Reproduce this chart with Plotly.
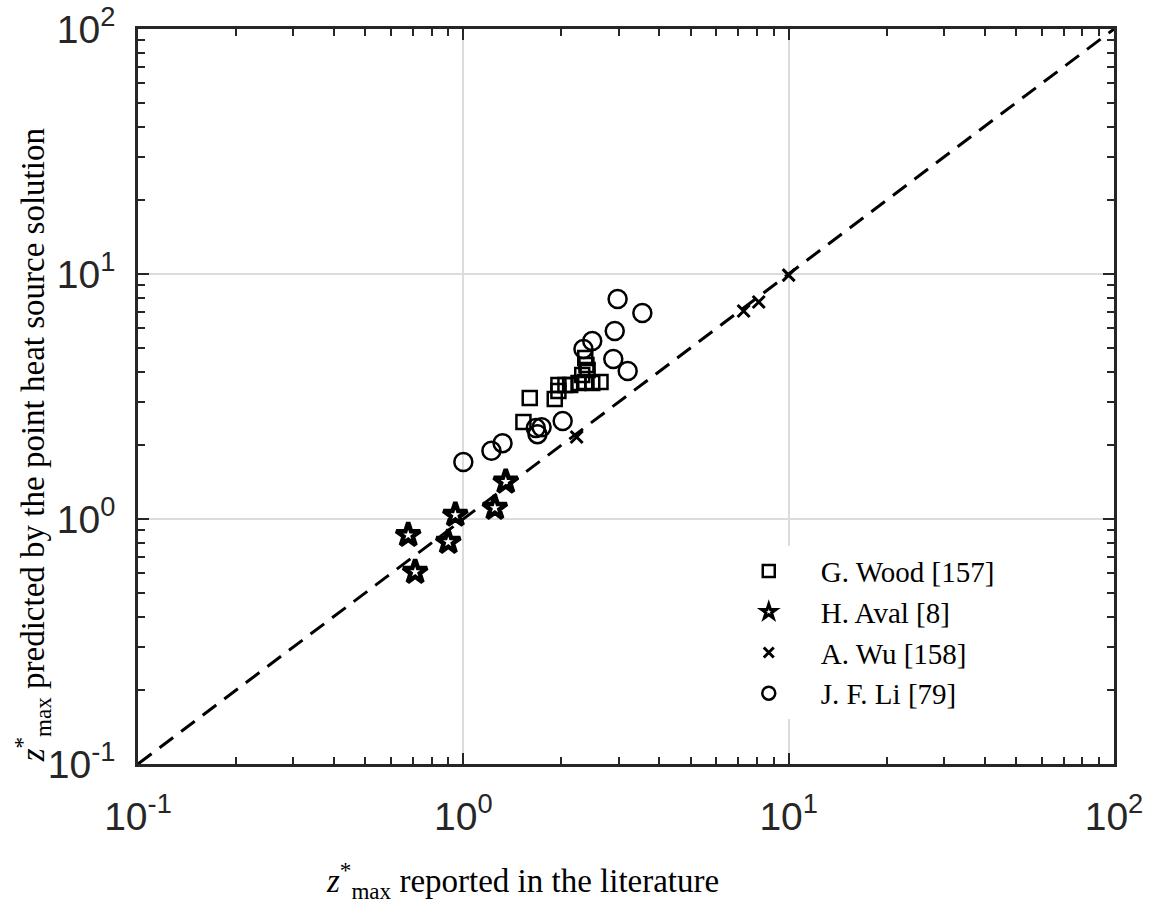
import plotly.graph_objects as go

# ---- data ----
wood_x = [1.60, 1.91, 1.53, 1.96, 1.96, 2.06, 2.13, 2.26, 2.37, 2.49, 2.64, 2.32, 2.41, 2.39, 2.37]
wood_y = [3.12, 3.09, 2.49, 3.33, 3.52, 3.52, 3.52, 3.59, 3.62, 3.59, 3.62, 3.87, 4.06, 4.25, 4.54]

aval_x = [0.677, 0.711, 0.899, 0.945, 1.25, 1.35]
aval_y = [0.86, 0.608, 0.806, 1.04, 1.11, 1.42]

wu_x = [2.23, 7.27, 8.09, 10.0]
wu_y = [2.16, 7.06, 7.69, 9.9]

li_x = [2.98, 3.55, 2.92, 2.49, 2.34, 2.89, 3.20, 2.02, 1.67, 1.74, 1.69, 1.32, 1.22, 1.00]
li_y = [7.91, 6.93, 5.85, 5.33, 4.94, 4.50, 4.02, 2.51, 2.35, 2.37, 2.22, 2.04, 1.90, 1.71]

line_x = [0.1, 100]
line_y = [0.1, 100]

tick_vals = [0.1, 1, 10, 100]
tick_text = ["10<sup>-1</sup>", "10<sup>0</sup>", "10<sup>1</sup>", "10<sup>2</sup>"]

names = ["G. Wood [157]", "H. Aval [8]", "A. Wu [158]", "J. F. Li [79]"]
x_title = "<i>z</i><sup>*</sup><sub>max</sub> reported in the literature"
y_title = "<i>z</i><sup>*</sup><sub>max</sub> predicted by the point heat source solution"

INK = "#262626"
SERIF = "Liberation Serif, DejaVu Serif, serif"
SANS = "Liberation Sans, Arial, Helvetica, sans-serif"

series = [
    (wood_x, wood_y, names[0], "square-open", 14, 2.5, 12, 2.5),
    (aval_x, aval_y, names[1], "star-open", 18, 4.5, 11, 3),
    (wu_x, wu_y, names[2], "x-thin-open", 12, 3, 10, 3),
    (li_x, li_y, names[3], "circle-open", 18, 2.5, 13, 2.5),
]

fig = go.Figure()

fig.add_trace(go.Scatter(x=line_x, y=line_y, mode="lines",
                         line=dict(color="black", width=3, dash="17px,10px"),
                         showlegend=False, hoverinfo="skip"))

for xs, ys, nm, sym, sz, lw, lsz, llw in series:
    # plotted markers
    fig.add_trace(go.Scatter(x=xs, y=ys, mode="markers", name=nm, legendgroup=nm,
                             showlegend=False,
                             marker=dict(symbol=sym, size=sz, color="black",
                                         line=dict(width=lw, color="black"))))
    # legend entry (smaller key symbol, as in the reference)
    fig.add_trace(go.Scatter(x=[None], y=[None], mode="markers", name=nm, legendgroup=nm,
                             showlegend=True,
                             marker=dict(symbol=sym, size=lsz, color="black",
                                         line=dict(width=llw, color="black"))))

axis_common = dict(
    type="log",
    range=[-1, 2],
    automargin=False,
    tickmode="array",
    tickvals=tick_vals,
    ticktext=tick_text,
    ticklabeloverflow="allow",
    showgrid=True,
    gridcolor="#dcdcdc",
    gridwidth=2,
    zeroline=False,
    showline=True,
    linecolor=INK,
    linewidth=2.5,
    mirror="allticks",
    ticks="inside",
    ticklen=11,
    tickwidth=2,
    tickcolor=INK,
    tickfont=dict(family=SANS, size=39, color=INK),
    minor=dict(ticks="inside", ticklen=7, tickwidth=2, tickcolor=INK, dtick="D1", showgrid=False),
)

fig.update_xaxes(**axis_common, ticklabelstandoff=16)
fig.update_yaxes(**axis_common, ticklabelstandoff=12)

fig.update_layout(
    width=1159, height=914,
    margin=dict(l=138, r=45, t=29, b=150),
    paper_bgcolor="white",
    plot_bgcolor="white",
    legend=dict(
        x=0.593, y=0.297, xanchor="left", yanchor="top",
        bgcolor="white", borderwidth=0,
        font=dict(family=SERIF, size=29, color="black"),
        itemwidth=94,
        tracegroupgap=0,
    ),
    annotations=[
        dict(text=x_title, xref="paper", yref="paper", x=0.394, y=-0.158,
             xanchor="center", yanchor="middle", showarrow=False,
             font=dict(family=SERIF, size=33, color="black")),
        dict(text=y_title, xref="paper", yref="paper", x=-0.108, y=0.433,
             xanchor="center", yanchor="middle", showarrow=False, textangle=-90,
             font=dict(family=SERIF, size=33, color="black")),
    ],
)

fig.write_html("out.html")
